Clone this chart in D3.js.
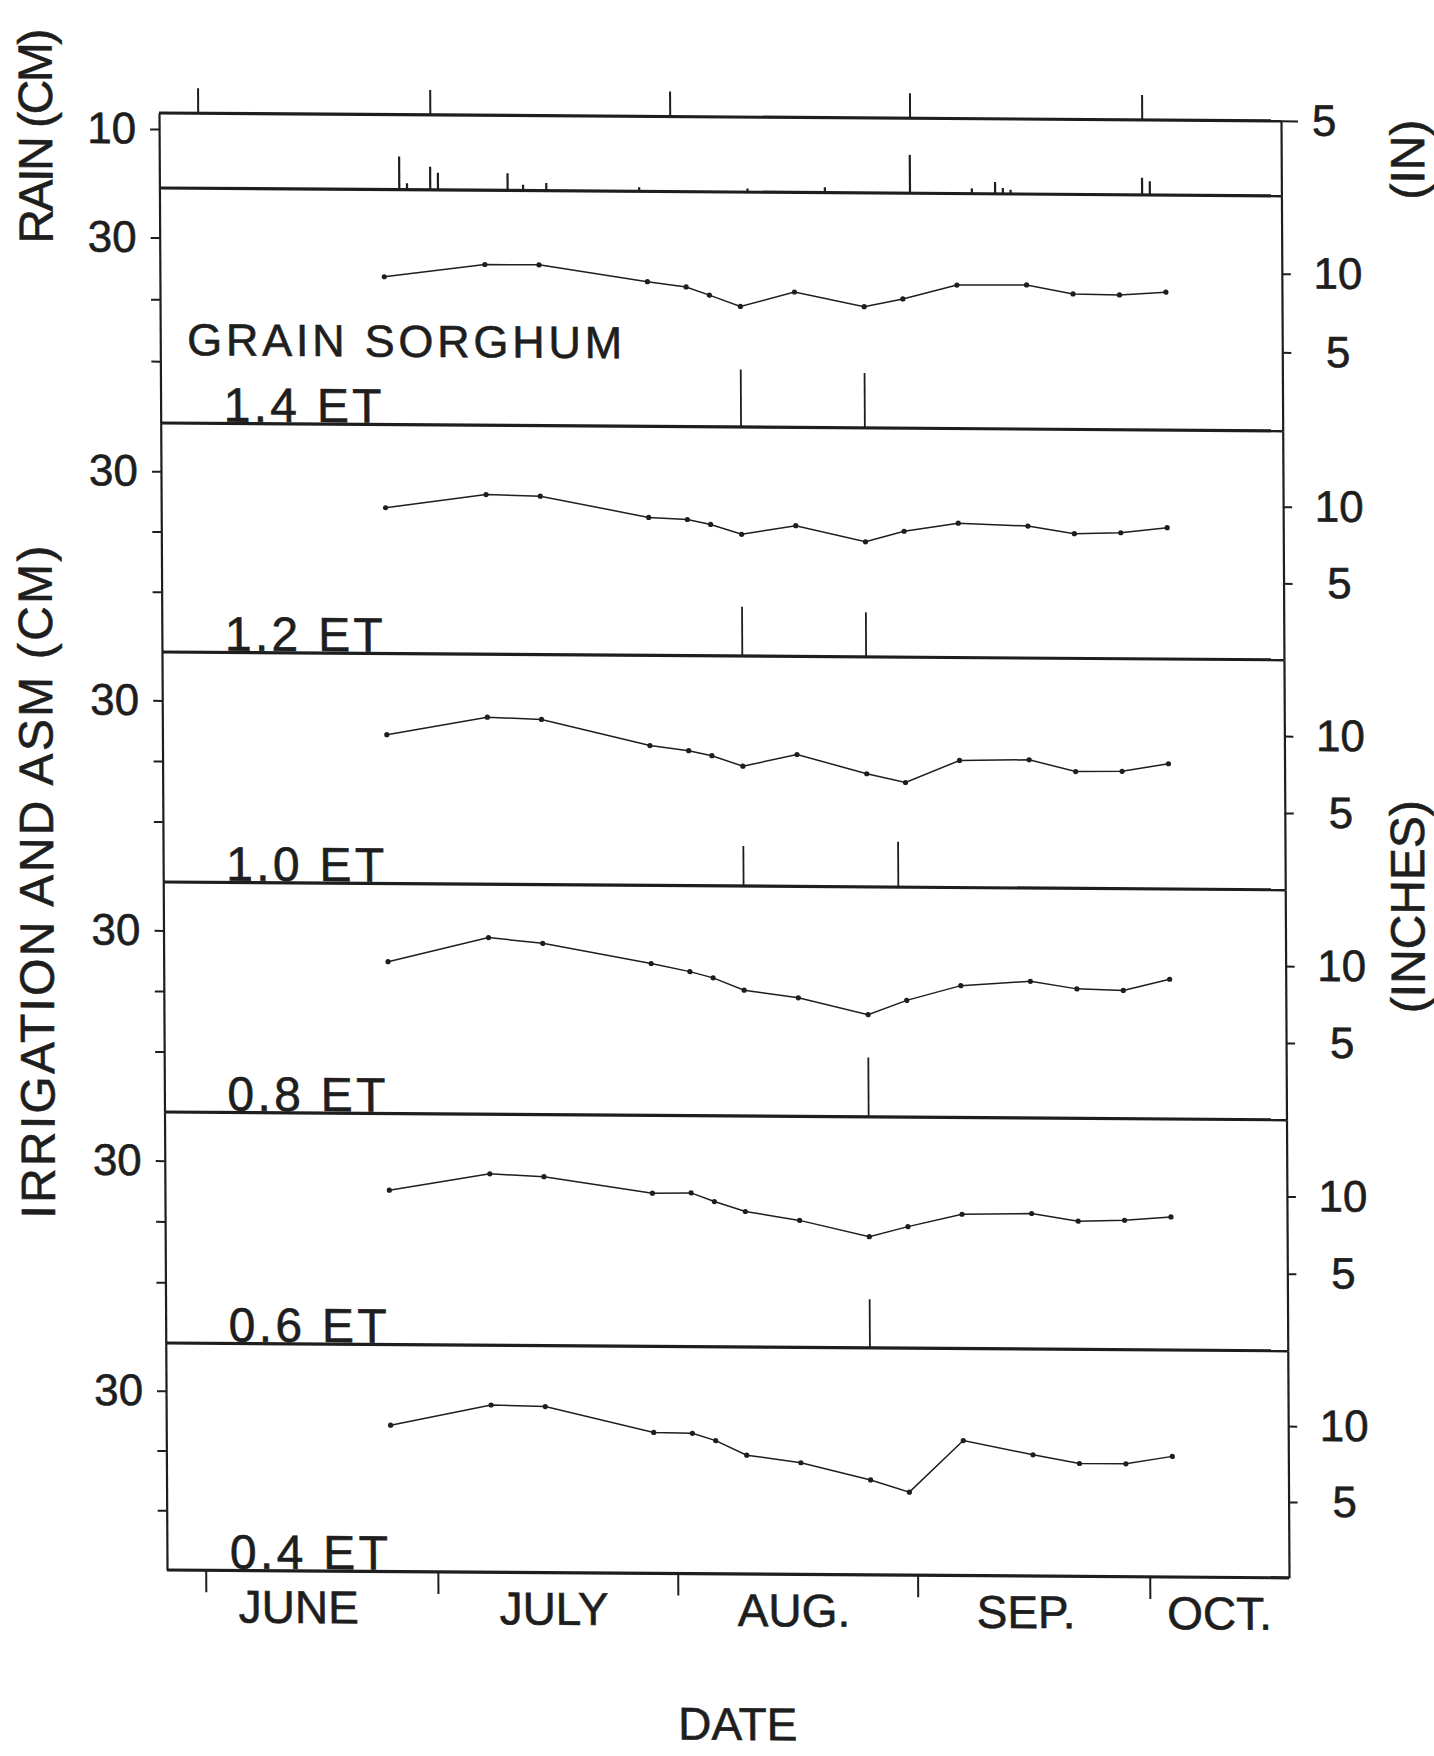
<!DOCTYPE html>
<html>
<head>
<meta charset="utf-8">
<script src="https://cdn.jsdelivr.net/npm/d3@7"></script>
<style>
  html, body { margin: 0; padding: 0; background: #fff; }
  svg { display: block; }
  text { stroke: #1e1e1e; stroke-width: 0.6px; }
</style>
</head>
<body>
<svg id="chart" width="1434" height="1756"></svg>
<script>
// Season is one summer; the year itself is not shown on the figure
const YEAR = 1984;
const day = (m, d) => new Date(Date.UTC(YEAR, m - 1, d));

// Soil moisture sampling dates (same for all treatments)
const sampleDates = [day(6,25), day(7,8), day(7,15), day(7,29), day(8,3), day(8,6), day(8,10),
  day(8,17), day(8,26), day(8,31), day(9,7), day(9,16), day(9,22), day(9,28), day(10,4)];

const treatments = ["1.4 ET", "1.2 ET", "1.0 ET", "0.8 ET", "0.6 ET", "0.4 ET"];

// Available soil moisture, cm
const asm14 = [23.9, 26.0, 26.0, 23.4, 22.6, 21.3, 19.5, 21.9, 19.6, 20.9, 23.2, 23.3, 21.9, 21.8, 22.3];
const asm12 = [24.2, 26.5, 26.3, 22.9, 22.6, 21.8, 20.2, 21.7, 19.1, 20.9, 22.3, 21.9, 20.7, 20.9, 21.8];
const asm10 = [24.6, 27.6, 27.3, 23.1, 22.3, 21.5, 19.8, 21.8, 18.7, 17.3, 21.0, 21.2, 19.3, 19.4, 20.7];
const asm08 = [25.1, 29.2, 28.3, 25.1, 23.8, 22.8, 20.8, 19.6, 16.9, 19.3, 21.8, 22.6, 21.4, 21.2, 23.1];
const asm06 = [25.4, 28.2, 27.8, 25.2, 25.3, 23.9, 22.3, 20.9, 18.3, 20.0, 22.1, 22.3, 21.1, 21.3, 21.9];
const asm04 = [24.5, 28.0, 27.8, 23.6, 23.5, 22.3, 19.9, 18.7, 15.9, 13.9, 22.6, 20.3, 18.9, 18.9, 20.2];
const asmSeries = [asm14, asm12, asm10, asm08, asm06, asm04];

// Irrigations (date, cm) per treatment
const irrigDates = [[day(8,10), day(8,26)], [day(8,10), day(8,26)], [day(8,10), day(8,30)], [day(8,26)], [day(8,26)], []];
const irrigCm = [[9.3, 8.9], [8.2, 7.4], [6.6, 7.5], [9.8], [8.0], []];

// Rainfall events, cm
const rainDates = [day(6,27), day(6,28), day(7,1), day(7,2), day(7,11), day(7,13), day(7,16), day(7,28),
  day(8,11), day(8,21), day(9,1), day(9,9), day(9,12), day(9,13), day(9,14), day(10,1), day(10,2)];
const rainCm = [5.6, 1.1, 3.9, 2.9, 2.9, 1.0, 1.3, 0.7, 0.6, 0.9, 6.5, 0.9, 2.0, 1.0, 0.7, 2.9, 2.3];

// Axis ticks
const monthStarts = [day(6,1), day(7,1), day(8,1), day(9,1), day(10,1)];
const monthNames = ["JUNE", "JULY", "AUG.", "SEP.", "OCT."];
const monthLabelAt = [day(6,13), day(7,16), day(8,16), day(9,15), day(10,10)];
const asmTicksCm = [10, 20, 30];
const asmLabelsCm = [30];
const asmTicksIn = [5, 10];
const rainTicksCm = [10];
const rainTicksIn = [5];

const INK = "#1e1e1e";
const FONT = "'Liberation Sans', Arial, sans-serif";

function drawChart() {
  const svg = d3.select("#chart");
  const W = +svg.attr("width");
  const H = +svg.attr("height");
  const left = 159, right = 1281;
  const edges = [113, 188, 423, 652, 882, 1112, 1343, 1570];   // rain top, panel borders, bottom
  const skewX = 0.0055, skewY = 0.007;                         // the original page is scanned slightly askew

  svg.append("rect").attr("width", W).attr("height", H).attr("fill", "#fff");

  const g = svg.append("g")
    .attr("transform", `matrix(1,${skewY},${skewX},1,${-skewX * edges[0]},${-skewY * left})`)
    .attr("font-family", FONT)
    .attr("fill", INK);

  const x = d3.scaleUtc()
    .domain([day(5,27), day(10,19)])
    .range([left, right]);

  function styleAxis(sel, fontSize) {
    sel.attr("font-family", FONT).attr("font-size", fontSize);
    sel.select(".domain").attr("stroke", INK).attr("stroke-width", 2.2);
    sel.selectAll(".tick line").attr("stroke", INK).attr("stroke-width", 2);
    sel.selectAll(".tick text").attr("fill", INK);
  }

  // Rain panel
  const yRain = d3.scaleLinear().domain([0, 12.7]).range([edges[1], edges[0]]);
  const yRainIn = d3.scaleLinear().domain([0, 5]).range([edges[1], edges[0]]);

  g.append("g")
    .attr("transform", `translate(${left},0)`)
    .call(d3.axisLeft(yRain).tickValues(rainTicksCm).tickFormat(d3.format("d"))
      .tickSize(9).tickPadding(14).tickSizeOuter(0))
    .call(s => styleAxis(s, 44));

  g.append("g")
    .attr("transform", `translate(${right},0)`)
    .call(d3.axisRight(yRainIn).tickValues(rainTicksIn).tickFormat(d3.format("d"))
      .tickSize(17).tickPadding(14).tickSizeOuter(0))
    .call(s => styleAxis(s, 44));

  g.append("g")
    .selectAll("line")
    .data(rainDates.map((d, i) => ({ date: d, cm: rainCm[i] })))
    .join("line")
    .attr("x1", d => x(d.date)).attr("x2", d => x(d.date))
    .attr("y1", yRain(0)).attr("y2", d => yRain(d.cm))
    .attr("stroke", INK).attr("stroke-width", 2.2);

  // month ticks above the rain panel
  g.append("g")
    .attr("transform", `translate(0,${edges[0]})`)
    .call(d3.axisTop(x).tickValues(monthStarts).tickFormat("").tickSize(25).tickSizeOuter(0))
    .call(s => { styleAxis(s, 10); s.select(".domain").remove(); });

  // Soil moisture panels
  treatments.forEach((name, i) => {
    const top = edges[i + 1], bottom = edges[i + 2];
    const y = d3.scaleLinear().domain([0, 38]).range([bottom, top]);
    const yIn = d3.scaleLinear().domain([0, 38 / 2.54]).range([bottom, top]);

    g.append("g")
      .attr("transform", `translate(${left},0)`)
      .call(d3.axisLeft(y).tickValues(asmTicksCm)
        .tickFormat(d => asmLabelsCm.includes(d) ? d : "")
        .tickSize(9).tickPadding(14).tickSizeOuter(0))
      .call(s => styleAxis(s, 44));

    g.append("g")
      .attr("transform", `translate(${right},0)`)
      .call(d3.axisRight(yIn).tickValues(asmTicksIn).tickFormat(d3.format("d"))
        .tickSize(9).tickPadding(14).tickSizeOuter(0))
      .call(s => {
        styleAxis(s, 44);
        s.selectAll(".tick text").attr("text-anchor", "middle").attr("x", 56);
      });

    // irrigation amounts
    g.append("g")
      .selectAll("line")
      .data(irrigDates[i].map((d, k) => ({ date: d, cm: irrigCm[i][k] })))
      .join("line")
      .attr("x1", d => x(d.date)).attr("x2", d => x(d.date))
      .attr("y1", y(0)).attr("y2", d => y(d.cm))
      .attr("stroke", INK).attr("stroke-width", 1.8);

    const pts = sampleDates.map((d, k) => ({ date: d, v: asmSeries[i][k] }));

    g.append("path")
      .datum(pts)
      .attr("fill", "none")
      .attr("stroke", INK)
      .attr("stroke-width", 1.5)
      .attr("d", d3.line().x(d => x(d.date)).y(d => y(d.v)));

    g.append("g")
      .selectAll("circle")
      .data(pts)
      .join("circle")
      .attr("cx", d => x(d.date))
      .attr("cy", d => y(d.v))
      .attr("r", 2.6)
      .attr("fill", INK);

    g.append("text")
      .attr("x", 222)
      .attr("y", bottom - 2)
      .attr("font-size", 48)
      .attr("textLength", 158)
      .attr("lengthAdjust", "spacing")
      .text(name);
  });

  // panel borders
  g.append("g")
    .selectAll("line")
    .data(edges)
    .join("line")
    .attr("x1", left).attr("x2", right)
    .attr("y1", d => d).attr("y2", d => d)
    .attr("stroke", INK).attr("stroke-width", 3.2);

  // month ticks and labels below
  g.append("g")
    .attr("transform", `translate(0,${edges[edges.length - 1]})`)
    .call(d3.axisBottom(x).tickValues(monthStarts).tickFormat("").tickSize(22).tickSizeOuter(0))
    .call(s => { styleAxis(s, 10); s.select(".domain").remove(); });

  g.append("g")
    .selectAll("text")
    .data(monthNames)
    .join("text")
    .attr("x", (d, i) => x(monthLabelAt[i]))
    .attr("y", 1622)
    .attr("text-anchor", "middle")
    .attr("font-size", 46)
    .text(d => d);

  g.append("text")
    .attr("x", 186)
    .attr("y", 355)
    .attr("font-size", 45)
    .attr("textLength", 435)
    .attr("lengthAdjust", "spacing")
    .text("GRAIN SORGHUM");

  g.append("text")
    .attr("x", 729)
    .attr("y", 1736)
    .attr("text-anchor", "middle")
    .attr("font-size", 46)
    .text("DATE");

  // rotated axis titles
  const vTitle = (text, bx, cy, len) => g.append("text")
    .attr("transform", `translate(${bx},${cy}) rotate(-90)`)
    .attr("text-anchor", "middle")
    .attr("font-size", 48)
    .attr("textLength", len)
    .attr("lengthAdjust", "spacing")
    .text(text);

  vTitle("RAIN (CM)", 52, 137, 215);
  vTitle("IRRIGATION AND ASM (CM)", 49, 883, 673);
  vTitle("(IN)", 1424, 151, 80);
  vTitle("(INCHES)", 1420, 898, 213);
}

drawChart();
</script>
</body>
</html>
